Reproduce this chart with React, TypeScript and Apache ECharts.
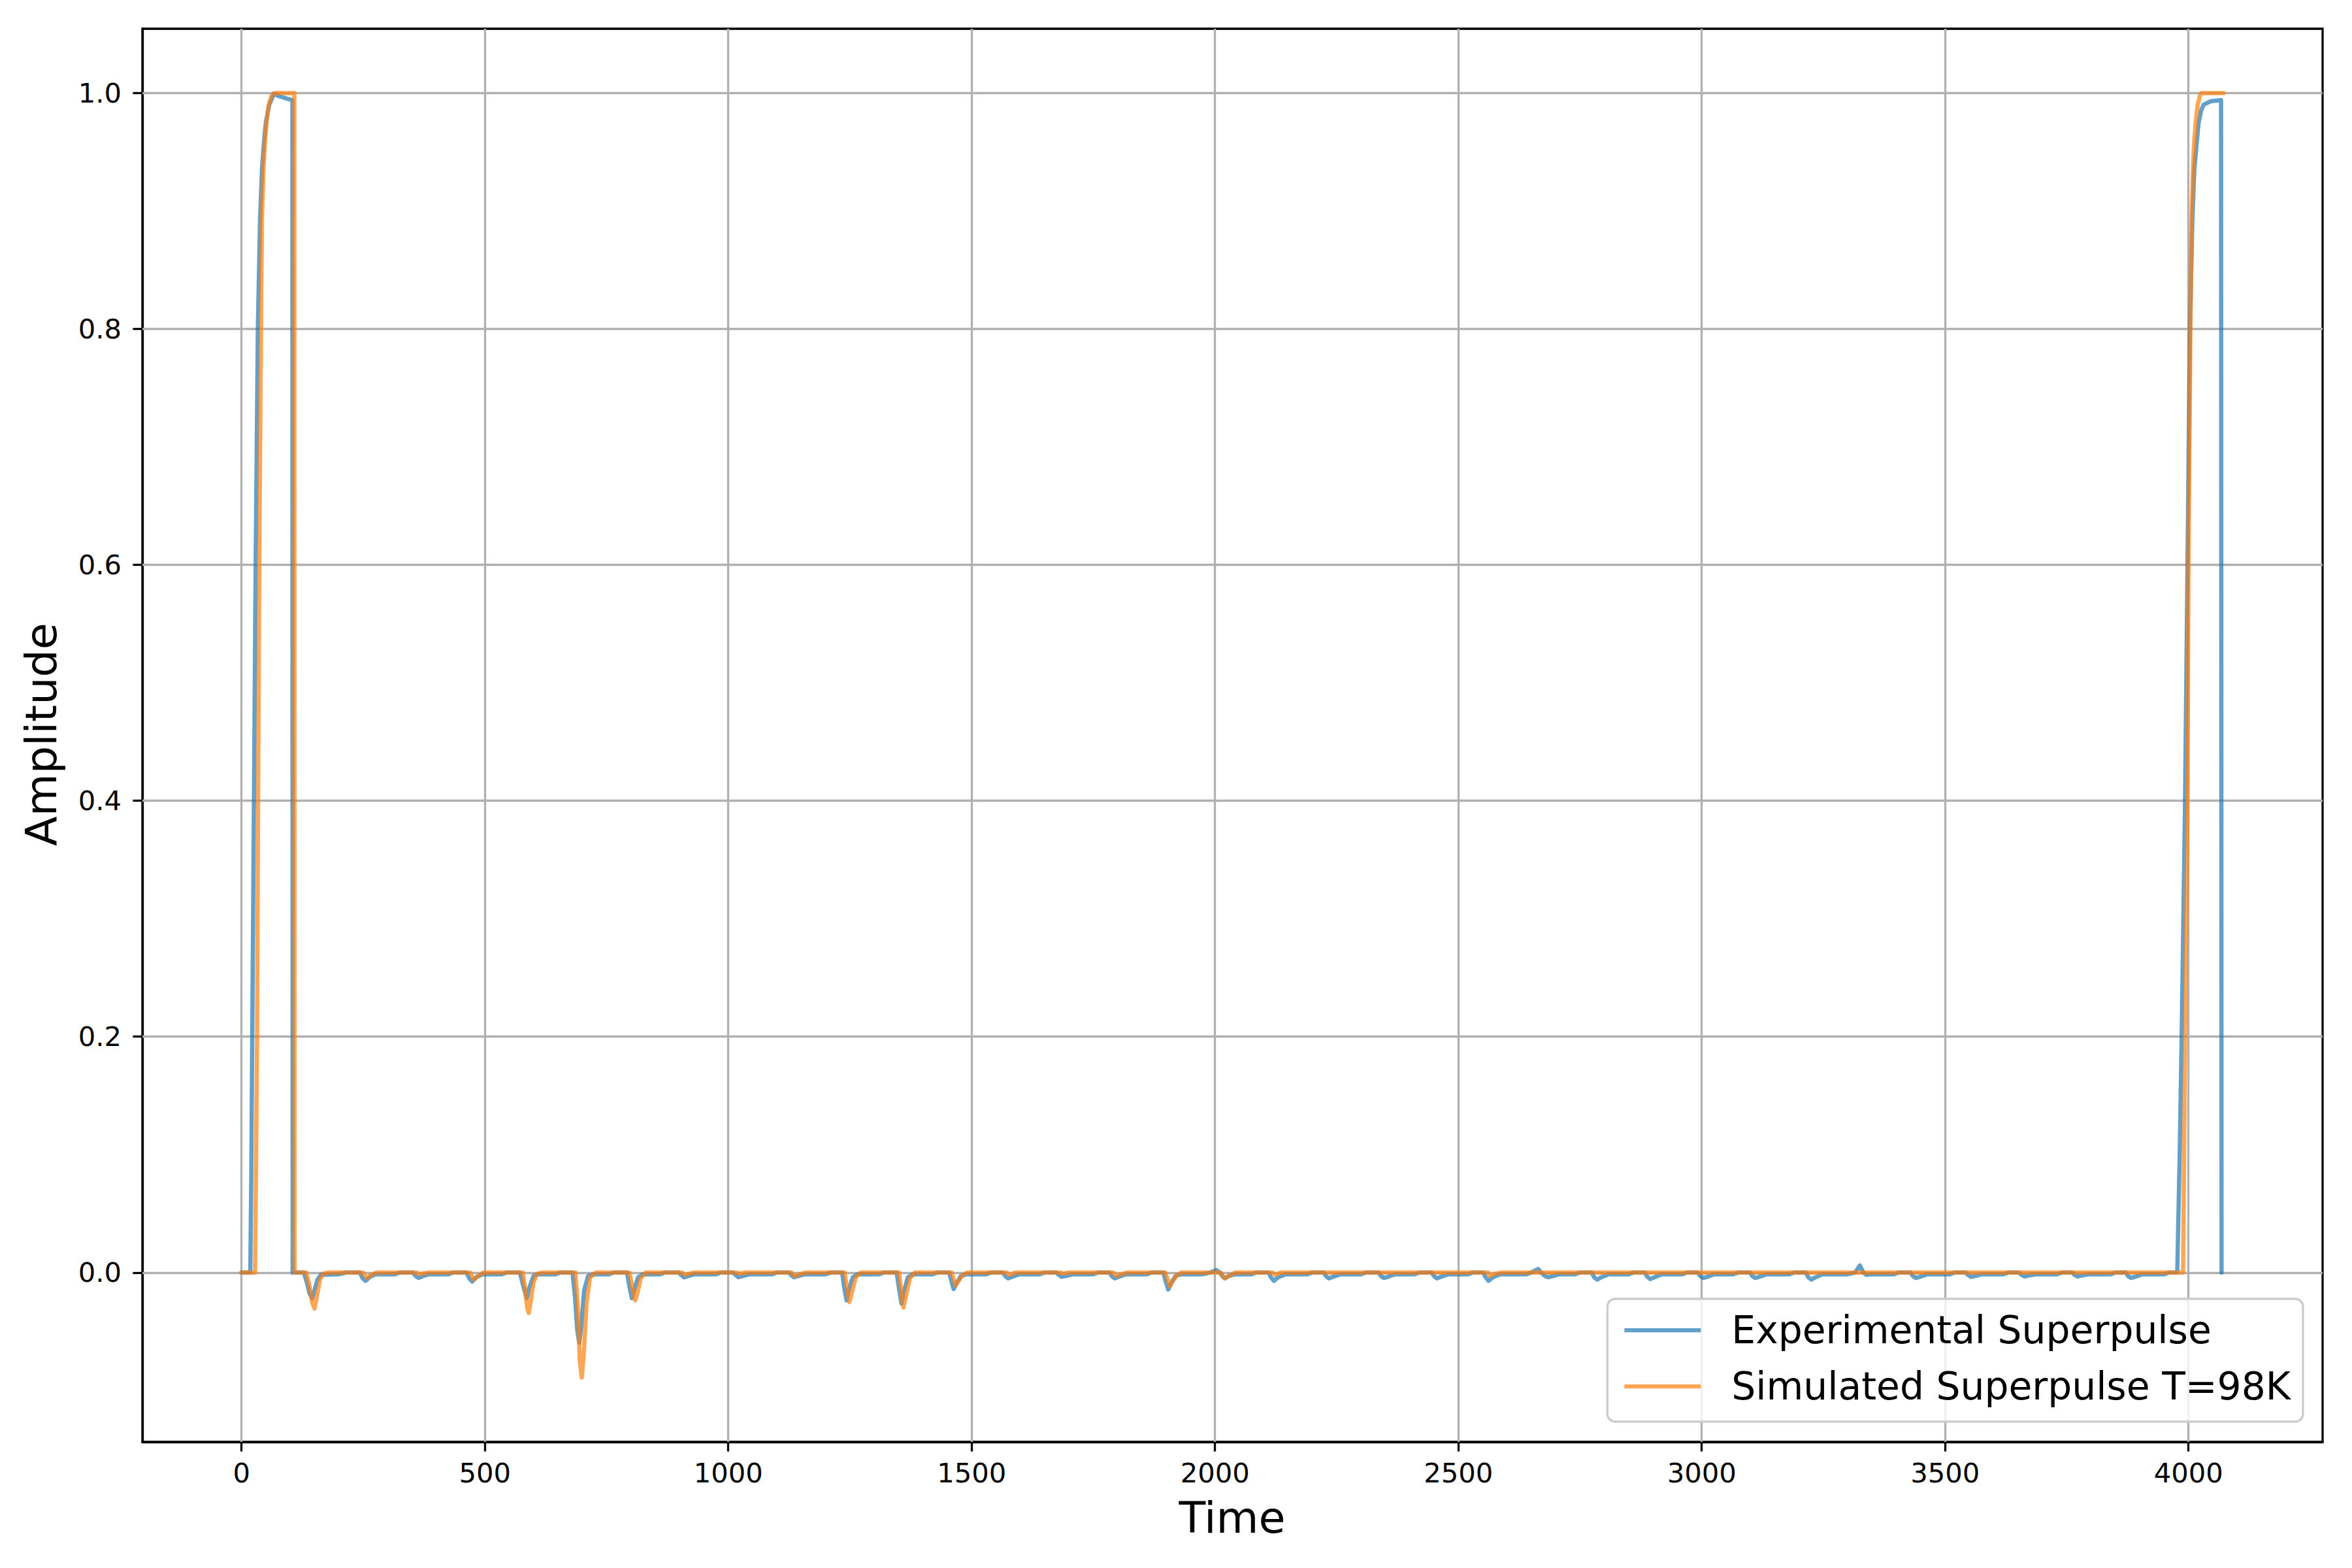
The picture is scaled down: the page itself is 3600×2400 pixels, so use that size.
import React, { useEffect, useRef } from "react";
import * as echarts from "echarts";

const seriesNames = ["Experimental Superpulse", "Simulated Superpulse T=98K"];
const xTicks = [0, 500, 1000, 1500, 2000, 2500, 3000, 3500, 4000];
const yTicks = [0, 0.2, 0.4, 0.6, 0.8, 1.0];

const expPoints: [number, number][] = [
  [0, 0], [18, 0], [20, 0.08], [22, 0.2], [25.5, 0.4], [29, 0.6], [33.5, 0.8], [38, 0.892], [42, 0.935], [46, 0.958], [50, 0.975], [57, 0.99], [66, 0.999], [80, 0.997], [95, 0.995], [104.5, 0.994], [105, 0],
  [128, 0], [134, -0.008], [140, -0.018], [145, -0.0218], [150, -0.015], [156, -0.006], [163, -0.002], [200, -0.0015],
  [215, 0], [243, 0], [249, -0.005], [255, -0.007], [263, -0.004], [275, -0.0015], [315, -0.0015],
  [325, 0], [352, 0], [358, -0.003], [364, -0.0046], [373, -0.003], [385, -0.0015], [425, -0.0015],
  [435, 0], [462, 0], [468, -0.005], [474, -0.0076], [482, -0.004], [495, -0.0015], [535, -0.0015],
  [545, 0], [572, 0], [578, -0.01], [586, -0.0218], [592, -0.012], [600, -0.003], [610, -0.0015], [645, -0.0015],
  [655, 0], [680, 0], [685, -0.02], [690, -0.05], [694, -0.0596], [698, -0.045], [704, -0.015], [712, -0.003], [725, -0.0015], [755, -0.0015],
  [765, 0], [792, 0], [797, -0.012], [802, -0.0218], [807, -0.014], [815, -0.004], [825, -0.0015], [860, -0.0015],
  [870, 0], [898, 0], [903, -0.002], [909, -0.0041], [918, -0.003], [930, -0.0015], [975, -0.0015],
  [985, 0], [1010, 0], [1015, -0.002], [1021, -0.004], [1030, -0.003], [1045, -0.0015], [1090, -0.0015],
  [1100, 0], [1124, 0], [1129, -0.002], [1135, -0.004], [1144, -0.003], [1158, -0.0015], [1200, -0.0015],
  [1210, 0], [1234, 0], [1238, -0.012], [1243, -0.0236], [1248, -0.014], [1256, -0.004], [1266, -0.0015], [1310, -0.0015],
  [1320, 0], [1346, 0], [1351, -0.014], [1356, -0.0264], [1361, -0.016], [1369, -0.004], [1380, -0.0015], [1420, -0.0015],
  [1430, 0], [1454, 0], [1459, -0.008], [1463, -0.014], [1469, -0.009], [1478, -0.003], [1490, -0.0015], [1530, -0.0015],
  [1540, 0], [1564, 0], [1569, -0.003], [1575, -0.005], [1584, -0.0035], [1598, -0.0015], [1640, -0.0015],
  [1650, 0], [1674, 0], [1679, -0.002], [1685, -0.0037], [1694, -0.003], [1708, -0.0015], [1750, -0.0015],
  [1760, 0], [1783, 0], [1788, -0.003], [1794, -0.005], [1803, -0.0035], [1817, -0.0015], [1860, -0.0015],
  [1870, 0], [1894, 0], [1899, -0.008], [1904, -0.0144], [1910, -0.009], [1919, -0.003], [1930, -0.0015], [1975, -0.0015],
  [1990, 0], [2003, 0.002], [2010, 0], [2015, -0.003], [2020, -0.005], [2028, -0.003], [2042, -0.0015], [2075, -0.0015],
  [2085, 0], [2110, 0], [2115, -0.004], [2121, -0.007], [2130, -0.004], [2145, -0.0015], [2190, -0.0015],
  [2200, 0], [2223, 0], [2228, -0.003], [2234, -0.005], [2243, -0.0035], [2258, -0.0015], [2300, -0.0015],
  [2310, 0], [2336, 0], [2341, -0.003], [2347, -0.0046], [2356, -0.0035], [2370, -0.0015], [2410, -0.0015],
  [2420, 0], [2445, 0], [2450, -0.003], [2456, -0.005], [2465, -0.0035], [2480, -0.0015], [2520, -0.0015],
  [2530, 0], [2551, 0], [2556, -0.004], [2562, -0.007], [2571, -0.004], [2586, -0.0015], [2640, -0.0015],
  [2650, 0], [2664, 0.003], [2670, 0], [2678, -0.003], [2685, -0.004], [2694, -0.003], [2708, -0.0015], [2740, -0.0015],
  [2750, 0], [2774, 0], [2779, -0.004], [2785, -0.006], [2794, -0.004], [2808, -0.0015], [2850, -0.0015],
  [2860, 0], [2883, 0], [2888, -0.0035], [2894, -0.0055], [2903, -0.004], [2918, -0.0015], [2960, -0.0015],
  [2970, 0], [2992, 0], [2997, -0.003], [3003, -0.0046], [3012, -0.0035], [3026, -0.0015], [3065, -0.0015],
  [3075, 0], [3099, 0], [3104, -0.003], [3110, -0.0046], [3119, -0.0035], [3133, -0.0015], [3180, -0.0015],
  [3190, 0], [3214, 0], [3219, -0.004], [3225, -0.006], [3234, -0.004], [3248, -0.0015], [3300, -0.0015],
  [3315, 0], [3325, 0.006], [3332, 0], [3338, -0.002], [3350, -0.0015], [3395, -0.0015],
  [3405, 0], [3429, 0], [3434, -0.003], [3440, -0.0046], [3449, -0.0035], [3463, -0.0015], [3510, -0.0015],
  [3520, 0], [3542, 0], [3547, -0.002], [3553, -0.0037], [3562, -0.003], [3576, -0.0015], [3620, -0.0015],
  [3630, 0], [3652, 0], [3657, -0.002], [3663, -0.0033], [3672, -0.0025], [3686, -0.0015], [3730, -0.0015],
  [3740, 0], [3761, 0], [3766, -0.002], [3772, -0.0033], [3781, -0.0025], [3795, -0.0015], [3840, -0.0015],
  [3850, 0], [3871, 0], [3876, -0.003], [3882, -0.0046], [3891, -0.0035], [3905, -0.0015], [3950, -0.0015],
  [3960, 0], [3977, 0], [3982, 0.1], [3986, 0.2], [3993, 0.4], [3998, 0.6], [4003, 0.8], [4008, 0.892], [4012, 0.935], [4017, 0.958], [4021, 0.975], [4026, 0.985], [4031, 0.99], [4045, 0.993], [4067, 0.994], [4068, 0],
];

const simPoints: [number, number][] = [
  [0, 0], [27.8, 0], [30, 0.1], [32, 0.2], [34, 0.4], [36.5, 0.6], [40, 0.8], [42, 0.892], [45, 0.935], [48, 0.958], [52, 0.978], [56, 0.99], [61, 0.997], [67, 1.0], [108.5, 1.0], [109, 0],
  [133, 0], [139, -0.01], [145, -0.025], [150, -0.0306], [155, -0.02], [161, -0.006], [168, -0.001], [180, 0],
  [250, 0], [254, -0.003], [258, -0.0046], [266, -0.002], [278, 0],
  [360, 0], [364, -0.001], [367, -0.0015], [375, -0.0005], [385, 0],
  [470, 0], [474, -0.004], [478, -0.006], [485, -0.003], [497, 0],
  [578, 0], [583, -0.015], [587, -0.03], [590, -0.0343], [594, -0.025], [600, -0.008], [607, -0.001], [618, 0],
  [686, 0], [691, -0.03], [695, -0.075], [699, -0.0891], [703, -0.07], [709, -0.025], [716, -0.004], [728, 0],
  [797, 0], [802, -0.01], [806, -0.021], [809, -0.0236], [813, -0.018], [820, -0.005], [830, 0],
  [905, 0], [909, -0.0015], [912, -0.002], [920, -0.001], [930, 0],
  [1018, 0], [1024, -0.001], [1035, 0],
  [1130, 0], [1134, -0.002], [1138, -0.003], [1146, -0.0015], [1160, 0],
  [1239, 0], [1244, -0.014], [1249, -0.025], [1254, -0.017], [1262, -0.004], [1272, 0],
  [1351, 0], [1356, -0.018], [1360, -0.0297], [1365, -0.02], [1373, -0.005], [1383, 0],
  [1459, 0], [1463, -0.006], [1467, -0.0111], [1473, -0.007], [1482, -0.002], [1492, 0],
  [1572, 0], [1578, -0.002], [1590, 0],
  [1684, 0], [1688, -0.001], [1700, 0],
  [1791, 0], [1797, -0.003], [1807, -0.0015], [1820, 0],
  [1898, 0], [1903, -0.006], [1907, -0.0116], [1913, -0.007], [1922, -0.002], [1932, 0],
  [2012, 0], [2016, -0.003], [2020, -0.005], [2028, -0.003], [2042, 0],
  [2118, 0], [2124, -0.002], [2135, 0],
  [2561, 0], [2565, -0.003], [2575, -0.001], [2590, 0],
  [3989, 0], [3991, 0.1], [3993, 0.2], [3998, 0.4], [4000, 0.6], [4004, 0.8], [4007, 0.9], [4010, 0.945], [4012, 0.96], [4016, 0.98], [4019, 0.99], [4023, 0.997], [4026, 1.0], [4072, 1.0],
];

const FONT = "DejaVu Sans";

export default function App() {
  const ref = useRef<HTMLDivElement>(null);
  useEffect(() => {
    if (!ref.current) return;
    const chart = echarts.init(ref.current, undefined, { renderer: "svg" });
    const axisLineStyle = { color: "#000", width: 3.3 };
    chart.setOption({
      animation: false,
      backgroundColor: "#ffffff",
      grid: {
        left: 218,
        right: 45,
        top: 44,
        bottom: 193,
        show: true,
        borderColor: "#000",
        borderWidth: 3.3,
        backgroundColor: "transparent",
      },
      xAxis: {
        type: "value",
        min: -203.6,
        max: 4275.6,
        axisLine: { show: true, onZero: false, lineStyle: axisLineStyle },
        axisTick: { show: true, length: 14.6, lineStyle: axisLineStyle, customValues: xTicks },
        axisLabel: {
          customValues: xTicks,
          margin: 26,
          fontSize: 41.7,
          fontFamily: FONT,
          color: "#000",
          formatter: (v: number) => String(Math.round(v)),
        },
        splitLine: { show: false },
      },
      yAxis: {
        type: "value",
        min: -0.1436,
        max: 1.0545,
        axisLine: { show: true, onZero: false, lineStyle: axisLineStyle },
        axisTick: { show: true, length: 14.6, lineStyle: axisLineStyle, customValues: yTicks },
        axisLabel: {
          customValues: yTicks,
          margin: 32,
          fontSize: 41.7,
          fontFamily: FONT,
          color: "#000",
          formatter: (v: number) => v.toFixed(1),
        },
        splitLine: { show: false },
      },
      legend: {
        orient: "vertical",
        right: 75,
        bottom: 224,
        padding: [13, 19, 19, 26],
        itemGap: 16,
        itemWidth: 117,
        itemHeight: 6.25,
        icon: "rect",
        backgroundColor: "rgba(255,255,255,0.8)",
        borderColor: "#cccccc",
        borderWidth: 3.3,
        borderRadius: 12,
        itemStyle: { opacity: 0.7 },
        textStyle: {
          fontSize: 58.3,
          fontFamily: FONT,
          color: "#000",
          lineHeight: 70,
          padding: [0, 0, 0, 42],
        },
        data: seriesNames,
      },
      series: [
        {
          type: "line",
          name: seriesNames[0],
          data: expPoints,
          symbol: "none",
          showSymbol: false,
          z: 3,
          itemStyle: { color: "#1f77b4" },
          lineStyle: { color: "#1f77b4", width: 6.5, opacity: 0.7, cap: "round", join: "round" },
          markLine: {
            silent: true,
            z: 1,
            symbol: ["none", "none"],
            label: { show: false },
            emphasis: { disabled: true },
            lineStyle: { color: "#b0b0b0", width: 3.3, type: "solid", opacity: 1 },
            data: [
              ...xTicks.map((v) => ({ xAxis: v })),
              ...yTicks.map((v) => ({ yAxis: v })),
            ],
          },
        },
        {
          type: "line",
          name: seriesNames[1],
          data: simPoints,
          symbol: "none",
          showSymbol: false,
          z: 4,
          itemStyle: { color: "#ff7f0e" },
          lineStyle: { color: "#ff7f0e", width: 6.5, opacity: 0.7, cap: "round", join: "round" },
        },
      ],
      graphic: [
        {
          type: "text",
          x: 1886,
          y: 2323,
          style: {
            text: "Time",
            fontSize: 66.7,
            fontFamily: FONT,
            fill: "#000",
            align: "center",
            verticalAlign: "middle",
          },
        },
        {
          type: "text",
          x: 63,
          y: 1124,
          rotation: Math.PI / 2,
          style: {
            text: "Amplitude",
            fontSize: 66.7,
            fontFamily: FONT,
            fill: "#000",
            align: "center",
            verticalAlign: "middle",
          },
        },
      ],
    });
    return () => chart.dispose();
  }, []);
  return (
    <div
      ref={ref}
      style={{ position: "absolute", left: 0, top: 0, width: 3600, height: 2400, background: "#fff" }}
    />
  );
}
